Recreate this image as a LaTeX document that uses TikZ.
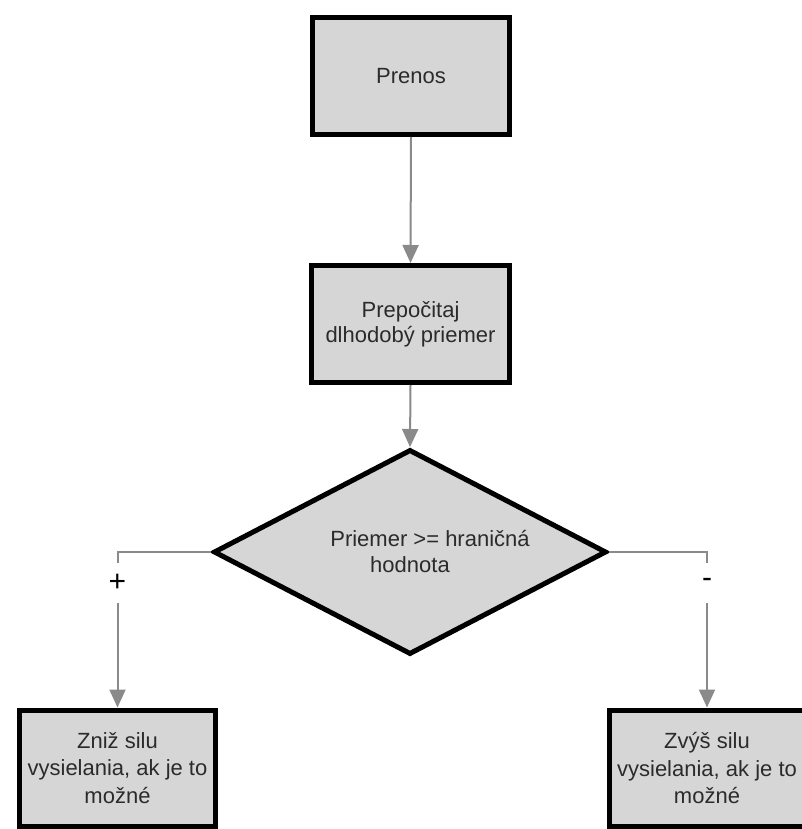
\documentclass[tikz,border=0pt]{standalone}
\usepackage{fontspec}
\setmainfont{Liberation Sans}
\usetikzlibrary{arrows.meta,shapes.geometric}

\definecolor{boxfill}{HTML}{D6D6D6}
\definecolor{linkgray}{HTML}{8A8A8A}
\definecolor{inkgray}{HTML}{2B2B2B}

\tikzset{
  procbox/.style={draw=black, line width=5pt, fill=boxfill, text=inkgray,
    align=center, inner sep=0pt, font=\fontsize{22}{25}\selectfont},
  decbox/.style={draw=black, line width=5pt, fill=boxfill, diamond,
    inner sep=0pt, minimum width=393pt, minimum height=205pt},
  dectext/.style={text=inkgray, align=center, inner sep=0pt,
    font=\fontsize{22}{26}\selectfont},
  link/.style={draw=linkgray, line width=2pt,
    -{Triangle[length=18pt,width=16pt]}},
  branchlabel/.style={fill=white, text=black, inner sep=2pt,
    minimum height=40pt, font=\fontsize{30}{30}\selectfont}
}

\begin{document}
\begin{tikzpicture}[x=1pt,y=-1pt]
  \useasboundingbox[fill=white] (0,0) rectangle (802,829);

  % process steps
  \node[procbox, minimum width=197pt, minimum height=117pt] (prenos) at (411,76) {Prenos};
  \node[procbox, minimum width=198pt, minimum height=117pt] (calc) at (410.5,324)
    {Prepočitaj\\dlhodobý priemer};

  % decision
  \node[decbox] (dec) at (410,552) {};
  \node[dectext] (dtext) at (410,552)
    {\hspace*{40pt}Priemer >= hraničná\\hodnota};

  % outcomes
  \node[procbox, minimum width=196pt, minimum height=116pt,
        font=\fontsize{22}{27.5}\selectfont] (low) at (117.5,768)
    {Zniž silu\\vysielania, ak je to\\možné};
  \node[procbox, minimum width=196pt, minimum height=116pt,
        font=\fontsize{22}{27.5}\selectfont] (high) at (707,768)
    {Zvýš silu\\vysielania, ak je to\\možné};

  % connectors
  \draw[link] (prenos.south) -- (calc.north);
  \draw[link] (calc.south) -- (dec.north);
  \draw[link] (dec.west) -| node[branchlabel, pos=0.6] (plus) {+} (low.north);
  \draw[link] (dec.east) -| node[branchlabel, pos=0.6] (minus) {-} (high.north);
\end{tikzpicture}
\end{document}
